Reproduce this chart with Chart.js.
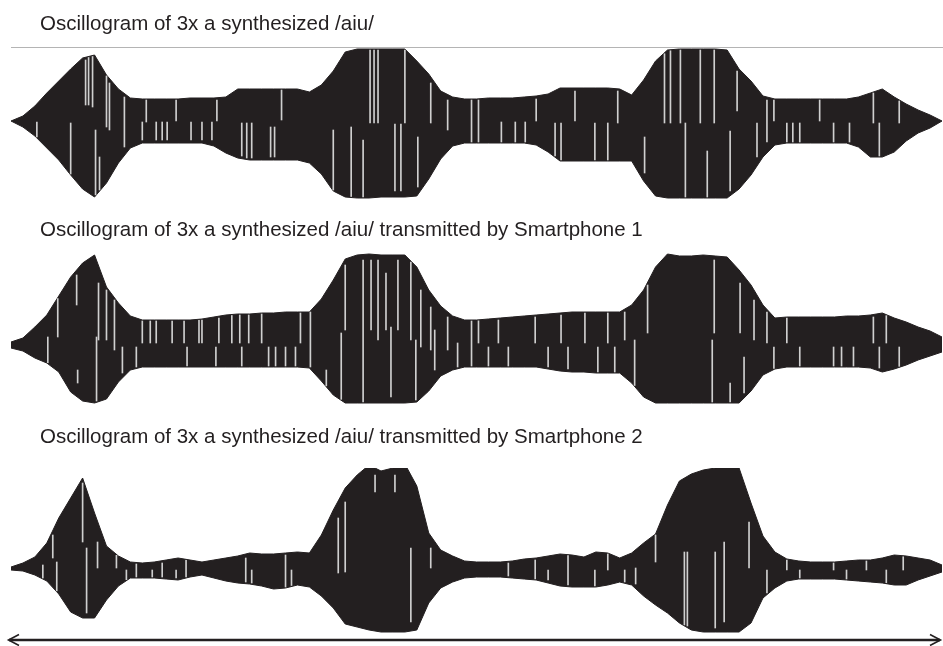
<!DOCTYPE html>
<html>
<head>
<meta charset="utf-8">
<script src="https://cdn.jsdelivr.net/npm/chart.js@4/dist/chart.umd.min.js"></script>
<style>
  html, body { margin: 0; padding: 0; background: #ffffff; }
  #stage { position: relative; width: 943px; height: 646px; overflow: hidden;
           font-family: "Liberation Sans", Arial, sans-serif; color: #231f20; }
  .title { position: absolute; left: 40px; font-size: 20.5px; line-height: 20px; white-space: nowrap; z-index: 2; }
  .wave { position: absolute; left: 11px; z-index: 1; }
  #rule { position: absolute; left: 11px; top: 47px; width: 932px; height: 1px; background: #b4b4b4; }
  #timeArrow { position: absolute; left: 0; top: 628px; z-index: 3; }
</style>
</head>
<body>
<div id="stage">
  <div class="title" id="t1" style="top:13px"></div>
  <div id="rule"></div>
  <canvas class="wave" id="w1" width="931" height="200" style="top:21px"></canvas>

  <div class="title" id="t2" style="top:219px"></div>
  <canvas class="wave" id="w2" width="931" height="200" style="top:245px"></canvas>

  <div class="title" id="t3" style="top:426px"></div>
  <canvas class="wave" id="w3" width="931" height="200" style="top:468px"></canvas>

  <svg id="timeArrow" width="943" height="18" viewBox="0 0 943 18">
    <line x1="9" y1="12" x2="940" y2="12" stroke="#231f20" stroke-width="2.6"/>
    <polyline points="19,6.5 8.5,12 19,17.5" fill="none" stroke="#231f20" stroke-width="1.6"/>
    <polyline points="930,6.5 940.5,12 930,17.5" fill="none" stroke="#231f20" stroke-width="1.6"/>
  </svg>
</div>

<script>
// Panel headings
const titles = [
  "Oscillogram of 3x a synthesized /aiu/",
  "Oscillogram of 3x a synthesized /aiu/ transmitted by Smartphone 1",
  "Oscillogram of 3x a synthesized /aiu/ transmitted by Smartphone 2"
];

// Envelope sampling interval (ms); envelopes below are sampled every SAMPLE_MS
const SAMPLE_MS = 12;

// Synthesized /aiu/ : positive and negative peak envelope (amplitude units)
const upper1 = [0,5,15,28,40,52,63,66,46,32,
                23,22,22,22,22,23,23,23,24,32,
                32,32,32,32,32,29,36,50,69,72,
                72,72,72,72,60,47,30,24,22,22,
                23,23,23,24,25,27,33,33,33,33,
                33,32,26,41,60,71,72,72,72,72,
                71,52,40,25,22,22,22,22,22,22,
                22,24,28,32,24,17,11,6,0];
const lower1 = [0,-6,-15,-27,-39,-54,-68,-76,-62,-42,
                -27,-22,-22,-22,-22,-22,-22,-25,-32,-37,
                -39,-39,-39,-39,-39,-42,-53,-70,-76,-77,
                -77,-76,-76,-76,-75,-58,-38,-25,-22,-22,
                -22,-22,-22,-22,-24,-31,-40,-40,-40,-40,
                -40,-40,-40,-60,-75,-77,-77,-77,-77,-77,
                -77,-68,-54,-36,-24,-22,-22,-22,-22,-22,
                -22,-26,-36,-36,-31,-20,-12,-7,0];

// Transmitted by Smartphone 1
const upper2 = [3,7,18,30,49,68,82,90,58,42,
                29,25,25,25,25,25,26,28,30,31,
                31,32,32,33,33,33,46,65,86,90,
                91,90,90,90,78,55,39,29,25,25,
                26,27,28,29,30,31,32,33,33,33,
                33,33,40,55,78,91,89,89,90,89,
                88,75,60,40,27,28,28,28,28,28,
                29,29,30,32,27,23,18,14,8];
const lower2 = [-3,-6,-13,-18,-27,-47,-56,-58,-54,-37,
                -25,-22,-22,-22,-22,-22,-22,-22,-22,-22,
                -22,-22,-22,-22,-22,-23,-36,-50,-58,-58,
                -58,-58,-58,-58,-57,-46,-31,-25,-22,-22,
                -22,-22,-22,-22,-22,-24,-26,-27,-27,-28,
                -28,-28,-38,-52,-58,-58,-58,-58,-58,-58,
                -58,-58,-46,-30,-24,-22,-22,-22,-22,-22,
                -22,-22,-23,-27,-24,-20,-15,-11,-7];

// Transmitted by Smartphone 2
const upper3 = [1,5,11,25,50,70,90,55,22,12,
                6,5,6,8,10,8,6,8,10,12,
                15,14,14,15,16,15,33,58,80,93,
                103,97,100,104,82,35,18,12,7,6,
                6,6,7,9,10,12,14,13,11,16,
                15,10,15,25,34,63,87,94,98,100,
                103,100,65,32,16,9,7,6,6,6,
                7,8,8,10,13,12,10,8,3];
const lower3 = [-2,-3,-7,-13,-26,-44,-50,-50,-32,-18,
                -10,-10,-10,-11,-12,-9,-7,-10,-13,-15,
                -16,-18,-21,-20,-17,-19,-28,-40,-56,-59,
                -62,-64,-64,-64,-62,-35,-20,-14,-10,-9,
                -9,-9,-10,-11,-12,-15,-18,-19,-19,-19,
                -17,-14,-17,-28,-37,-45,-55,-62,-64,-64,
                -64,-64,-55,-30,-20,-13,-11,-11,-11,-11,
                -12,-13,-14,-15,-17,-17,-12,-8,-4];

// Zero-crossing gaps inside each waveform: [time ms, top, bottom]
const gaps1 = [[26,-1,-29],[60,-2,-59],[75,61,16],[78,64,16],[82,68,14],[85,-9,-74],[89,-36,-69],[96,48,-6],
  [99,38,-9],[114,24,-26],[132,-1,-19],[136,21,-1],[146,-1,-19],[152,-1,-19],[157,-1,-19],[166,21,0],
  [181,-1,-19],[192,-1,-19],[202,-1,-19],[207,21,0],[232,-2,-35],[237,-2,-37],[242,-2,-37],[261,-6,-36],
  [265,-6,-36],[272,31,1],[324,-9,-70],[342,-6,-76],[354,-19,-76],[361,71,-2],[365,71,-2],[369,71,-2],
  [386,-3,-70],[392,-3,-70],[396,71,-2],[409,-16,-66],[422,38,-2],[439,21,-9],
  [463,21,-21],[470,21,-21],[493,-1,-21],[507,-1,-21],[517,-1,-21],[528,22,0],[547,-2,-35],[553,-2,-39],
  [567,30,0],[587,-2,-39],[600,-2,-39],[610,30,-2],[637,-16,-52],[657,68,-2],[663,71,-2],[673,71,-2],
  [678,-2,-76],[693,71,-2],[700,-30,-76],[707,71,-2],[723,-10,-70],[730,50,10],[750,-2,-36],[760,21,-21],
  [767,21,0],[780,-2,-21],[786,-2,-21],[793,-2,-21],[813,21,0],[827,-2,-21],[843,-2,-21],[867,28,-2],
  [873,-2,-35],[893,20,-2]];
const gaps2 = [[37,8,-18],[47,52,8],[66,70,40],[67,-25,-38],[86,8,-56],[88,62,5],[96,55,5],[104,45,-5],
  [112,-2,-28],[126,-2,-22],[132,25,2],[140,25,2],[146,25,2],[162,25,2],[174,25,2],[177,-2,-22],
  [189,25,2],[192,25,2],[206,-2,-22],[209,27,2],[222,30,2],[230,30,2],[232,-2,-22],[239,30,2],
  [252,33,2],[259,-2,-22],[266,-2,-22],[276,-2,-22],[286,-2,-22],[291,33,2],[301,33,-22],[317,-25,-45],
  [332,12,-56],[336,80,15],[354,85,-58],[362,85,15],[369,85,5],[377,72,15],[382,18,-52],[389,85,15],
  [402,85,5],[407,5,-55],[412,55,-2],[422,38,-5],[426,15,-25],[439,28,-5],[449,2,-22],
  [463,25,-22],[470,25,2],[480,-2,-22],[490,25,2],[500,-2,-22],[527,28,2],[540,-2,-22],[553,30,2],
  [560,-2,-24],[577,33,2],[590,-2,-27],[600,33,2],[607,-2,-27],[617,33,5],[627,5,-42],[640,60,12],
  [705,5,-58],[707,85,12],[723,-38,-58],[733,62,12],[737,-12,-48],[747,45,5],[760,33,2],[767,-2,-25],
  [780,28,2],[793,-2,-22],[827,-2,-22],[835,-2,-22],[847,-2,-22],[867,28,2],[873,-2,-23],[880,30,2],
  [893,-2,-22]];
const gaps3 = [[32,3,-10],[42,33,10],[46,6,-27],[72,85,26],[76,20,-45],[87,26,0],[106,20,0],[116,-2,-12],
  [126,4,-9],[142,-2,-10],[152,5,-9],[166,-2,-10],[176,9,-11],[236,10,-14],[242,-2,-15],[276,13,-20],
  [282,-2,-20],[329,50,-5],[336,66,-4],[366,93,76],[386,93,76],[402,20,-54],[422,20,0],
  [500,5,-8],[527,8,-11],[540,-2,-12],[560,13,-17],[587,-2,-18],[600,15,-2],[617,-2,-14],[628,0,-16],
  [648,40,6],[677,16,-58],[680,16,-58],[708,16,-60],[717,26,-54],[742,46,0],[760,-2,-25],[780,8,-2],
  [793,-2,-11],[827,5,-2],[840,-2,-11],[860,7,-2],[880,-2,-15],[897,12,-2]];

const INK = '#231f20';
const GAP_COLOR = '#cfcfcf';

// envelope value at an arbitrary time, used to keep gap strokes inside the waveform
function envAt(env, t) {
  const p = t / SAMPLE_MS, i = Math.min(Math.floor(p), env.length - 2), f = p - i;
  return env[i] + (env[i + 1] - env[i]) * f;
}

function drawWave(id, upper, lower, gaps) {
  const pts = arr => arr.map((v, i) => ({ x: i * SAMPLE_MS, y: v }));
  const gapBars = gaps.map(([t, top, bottom]) => ({
    x: t,
    y: [Math.max(bottom, envAt(lower, t) + 1), Math.min(top, envAt(upper, t) - 1)]
  })).filter(g => g.y[1] > g.y[0]);
  const tEnd = (upper.length - 1) * SAMPLE_MS;

  new Chart(document.getElementById(id), {
    type: 'line',
    data: {
      datasets: [
        { type: 'bar', data: gapBars, backgroundColor: GAP_COLOR, barThickness: 1,
          borderWidth: 0, order: 0 },
        { data: pts(upper), borderColor: INK, backgroundColor: INK, borderWidth: 1,
          pointRadius: 0, tension: 0, fill: '+1', order: 1 },
        { data: pts(lower), borderColor: INK, backgroundColor: INK, borderWidth: 1,
          pointRadius: 0, tension: 0, fill: false, order: 2 }
      ]
    },
    options: {
      responsive: false,
      animation: false,
      events: [],
      layout: { padding: 0 },
      plugins: { legend: { display: false }, tooltip: { enabled: false }, title: { display: false } },
      scales: {
        x: { type: 'linear', min: 0, max: tEnd, offset: false, display: false },
        y: { min: -100, max: 100, display: false }
      }
    }
  });
}

document.getElementById('t1').textContent = titles[0];
document.getElementById('t2').textContent = titles[1];
document.getElementById('t3').textContent = titles[2];

drawWave('w1', upper1, lower1, gaps1);
drawWave('w2', upper2, lower2, gaps2);
drawWave('w3', upper3, lower3, gaps3);
</script>
</body>
</html>
